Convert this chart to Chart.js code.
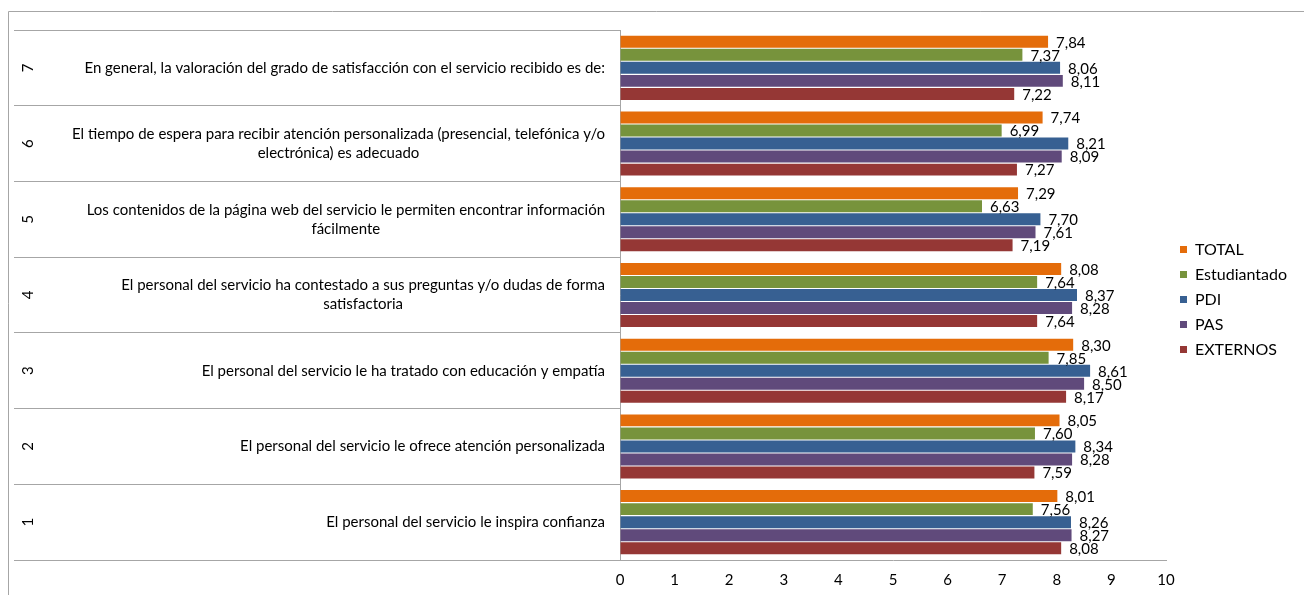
<!DOCTYPE html>
<html>
<head>
<meta charset="utf-8">
<script src="https://cdn.jsdelivr.net/npm/chart.js@4.4.1/dist/chart.umd.min.js"></script>
<style>
  html, body { margin: 0; padding: 0; background: #ffffff; }
  #wrap { width: 1304px; height: 595px; position: relative; }
</style>
</head>
<body>
<div id="wrap"><canvas id="c" width="1304" height="595"></canvas></div>
<script>
// ---- data (top to bottom as displayed) ----
const itemNumbers = ['7', '6', '5', '4', '3', '2', '1'];
const questions = [
  ['En general, la valoración del grado de satisfacción con el servicio recibido es de:'],
  ['El tiempo de espera para recibir atención personalizada (presencial, telefónica y/o', 'electrónica) es adecuado'],
  ['Los contenidos de la página web del servicio le permiten encontrar información', 'fácilmente'],
  ['El personal del servicio ha contestado a sus preguntas y/o dudas de forma', 'satisfactoria'],
  ['El personal del servicio le ha tratado con educación y empatía'],
  ['El personal del servicio le ofrece atención personalizada'],
  ['El personal del servicio le inspira confianza']
];
const seriesNames = ['TOTAL', 'Estudiantado', 'PDI', 'PAS', 'EXTERNOS'];
const totalValues        = [7.84, 7.74, 7.29, 8.08, 8.30, 8.05, 8.01];
const estudiantadoValues = [7.37, 6.99, 6.63, 7.64, 7.85, 7.60, 7.56];
const pdiValues          = [8.06, 8.21, 7.70, 8.37, 8.61, 8.34, 8.26];
const pasValues          = [8.11, 8.09, 7.61, 8.28, 8.50, 8.28, 8.27];
const externosValues     = [7.22, 7.27, 7.19, 7.64, 8.17, 7.59, 8.08];
const xTickValues = [0, 1, 2, 3, 4, 5, 6, 7, 8, 9, 10];

const seriesColors = ['#E46C0A', '#77933C', '#376092', '#604A7B', '#953735'];
const FONT = 'Lato, "Open Sans", sans-serif';

Chart.defaults.font.family = FONT;
Chart.defaults.color = '#000000';

const seriesValues = [totalValues, estudiantadoValues, pdiValues, pasValues, externosValues];
const datasets = seriesNames.map((name, i) => ({
  label: name,
  data: seriesValues[i],
  backgroundColor: seriesColors[i],
  borderWidth: 0,
  categoryPercentage: 0.86,
  barPercentage: 0.92
}));

// legend geometry (Chart.js vertical legend width = pad + box + size/2 + text + 10)
const LEG_FONT = 16, LEG_BOX = 7, LEG_PAD = 9;
const PLOT_RIGHT = 1166;
const mctx = document.createElement('canvas').getContext('2d');
mctx.font = LEG_FONT + 'px ' + FONT;
const legTextW = Math.max(...seriesNames.map(s => mctx.measureText(s).width));
const legendW = LEG_PAD + LEG_BOX + LEG_FONT / 2 + legTextW + 10;
const padRight = Math.max(0, 1304 - PLOT_RIGHT - legendW);

const decor = {
  id: 'decor',
  afterLayout(chart) {
    const lg = chart.legend;
    if (lg) { lg.left += 5; lg.right += 5; lg.top -= 13; lg.bottom -= 13; }
  },
  beforeDraw(chart) {
    const ctx = chart.ctx;
    ctx.save();
    ctx.strokeStyle = '#a6a6a6';
    ctx.lineWidth = 1;
    ctx.beginPath();
    ctx.moveTo(8.5, 595);
    ctx.lineTo(8.5, 11.5);
    ctx.lineTo(1304, 11.5);
    ctx.stroke();
    ctx.restore();
  },
  afterDatasetsDraw(chart) {
    const ctx = chart.ctx;
    const yScale = chart.scales.y;
    ctx.save();
    // value labels
    ctx.font = '15px ' + FONT;
    ctx.fillStyle = '#000000';
    ctx.textAlign = 'left';
    ctx.textBaseline = 'middle';
    chart.data.datasets.forEach((ds, di) => {
      const meta = chart.getDatasetMeta(di);
      meta.data.forEach((el, i) => {
        const v = ds.data[i];
        ctx.fillText(v.toFixed(2).replace('.', ','), el.x + 8, el.y + 1);
      });
    });
    // category texts
    const lineH = 19;
    const rightEdge = 605;
    questions.forEach((lines, i) => {
      const cy = yScale.getPixelForValue(i);
      const widths = lines.map(l => ctx.measureText(l).width);
      const blockW = Math.max(...widths);
      const cx = rightEdge - blockW / 2;
      ctx.textAlign = 'center';
      lines.forEach((l, k) => {
        const y = cy + (k - (lines.length - 1) / 2) * lineH;
        ctx.fillText(l, cx, y);
      });
      // rotated item number
      ctx.save();
      ctx.translate(28, cy);
      ctx.rotate(-Math.PI / 2);
      ctx.textAlign = 'center';
      ctx.fillText(itemNumbers[i], 0, 0);
      ctx.restore();
    });
    ctx.restore();
  }
};

new Chart(document.getElementById('c'), {
  type: 'bar',
  data: { labels: itemNumbers, datasets },
  options: {
    responsive: false,
    animation: false,
    indexAxis: 'y',
    layout: { padding: { left: 14, top: 30, right: padRight, bottom: 0 } },
    scales: {
      x: {
        min: 0, max: 10,
        afterBuildTicks(scale) { scale.ticks = xTickValues.map(v => ({ value: v })); },
        afterFit(scale) { scale.height = 35; },
        grid: { display: true, drawOnChartArea: false, drawTicks: false },
        border: { display: true, color: '#a6a6a6', width: 1 },
        ticks: { font: { size: 15 }, color: '#000000', padding: 11 }
      },
      y: {
        afterFit(scale) { scale.width = 606; },
        ticks: { display: false },
        grid: { display: true, drawOnChartArea: false, drawTicks: true, tickLength: 606, color: '#a6a6a6', offset: true },
        border: { display: true, color: '#a6a6a6', width: 1 }
      }
    },
    plugins: {
      legend: {
        position: 'right',
        labels: { boxWidth: LEG_BOX, boxHeight: LEG_BOX, padding: LEG_PAD, font: { size: LEG_FONT }, color: '#000000' }
      },
      tooltip: { enabled: false }
    }
  },
  plugins: [decor]
});
</script>
</body>
</html>
